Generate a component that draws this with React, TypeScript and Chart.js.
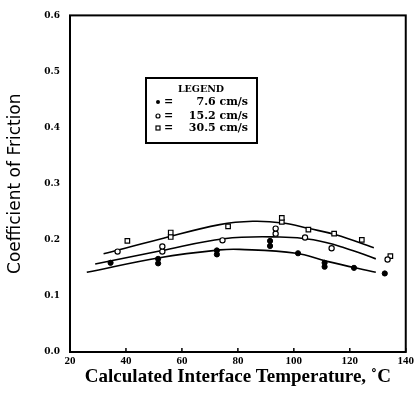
import React, { useEffect, useRef } from "react";
import { Chart, registerables } from "chart.js";

Chart.register(...registerables);

// Axis ticks
const xTickValues = [20, 40, 60, 80, 100, 120, 140];
const yTickValues = [0, 0.1, 0.2, 0.3, 0.4, 0.5, 0.6];

// Measured friction at 7.6 cm/s (filled circles)
const slowTemp = [34.5, 51.5, 51.5, 72.5, 72.5, 91.5, 91.5, 101.5, 111, 111, 121.5, 132.5];
const slowCoef = [0.159, 0.158, 0.166, 0.174, 0.181, 0.189, 0.198, 0.176, 0.152, 0.159, 0.15, 0.14];

// Measured friction at 15.2 cm/s (open circles)
const midTemp = [37, 53, 53, 74.5, 93.5, 93.5, 104, 113.5, 133.5];
const midCoef = [0.179, 0.179, 0.188, 0.199, 0.211, 0.22, 0.204, 0.185, 0.165];

// Measured friction at 30.5 cm/s (open squares)
const fastTemp = [40.5, 56, 56, 76.5, 95.7, 95.7, 105.2, 114.4, 124.3, 134.5];
const fastCoef = [0.198, 0.205, 0.213, 0.224, 0.232, 0.239, 0.218, 0.211, 0.2, 0.171];

// Fitted curves
const slowFitTemp = [26, 52, 73.5, 80.6, 100.8, 111.5, 129.3];
const slowFitCoef = [0.142, 0.168, 0.182, 0.183, 0.176, 0.162, 0.142];
const midFitTemp = [29, 52, 75, 95, 107, 118, 129.3];
const midFitCoef = [0.157, 0.18, 0.202, 0.205, 0.2, 0.186, 0.166];
const fastFitTemp = [32, 52, 73.5, 85.3, 96, 105.5, 115, 128.6];
const fastFitCoef = [0.175, 0.201, 0.227, 0.233, 0.23, 0.22, 0.209, 0.186];

// Legend entries
const legendLabels = ["7.6 cm/s", "15.2 cm/s", "30.5 cm/s"];

const pairs = (xs: number[], ys: number[]) => xs.map((x, i) => ({ x, y: ys[i] }));

const TIMES = "'Liberation Serif', serif";
const WIDE_SERIF = "'DejaVu Serif', serif";

const framePlugin = {
  id: "frame",
  afterDatasetsDraw(chart: any) {
    const { ctx, chartArea } = chart;
    const { left, right, top, bottom } = chartArea;
    const xs = chart.scales.x;
    ctx.save();
    ctx.strokeStyle = "#000";
    ctx.lineWidth = 2;
    ctx.strokeRect(left, top, right - left, bottom - top);
    // inward ticks along the bottom edge
    ctx.lineWidth = 1.5;
    xTickValues.forEach((v) => {
      const px = xs.getPixelForValue(v);
      ctx.beginPath();
      ctx.moveTo(px, bottom);
      ctx.lineTo(px, bottom - 4);
      ctx.stroke();
    });

    // legend box
    const bx = 146, by = 78, bw = 111, bh = 65;
    ctx.fillStyle = "#fff";
    ctx.fillRect(bx, by, bw, bh);
    ctx.lineWidth = 2;
    ctx.strokeRect(bx, by, bw, bh);
    ctx.fillStyle = "#000";
    ctx.font = `bold 9.5px ${WIDE_SERIF}`;
    ctx.textBaseline = "middle";
    ctx.textAlign = "center";
    ctx.fillText("LEGEND", 201, 90);
    const rowY = [102, 116, 128];
    rowY.forEach((y, i) => {
      ctx.lineWidth = 1.2;
      if (i === 0) {
        ctx.beginPath();
        ctx.arc(158, y, 2, 0, Math.PI * 2);
        ctx.fill();
      } else if (i === 1) {
        ctx.beginPath();
        ctx.arc(158, y, 2, 0, Math.PI * 2);
        ctx.stroke();
      } else {
        ctx.strokeRect(156, y - 2, 4, 4);
      }
      ctx.font = `bold 11px ${WIDE_SERIF}`;
      ctx.textAlign = "left";
      ctx.fillText("=", 164, y);
      ctx.textAlign = "right";
      ctx.fillText(legendLabels[i], 248, y);
    });
    ctx.restore();
  },
};

export default function App() {
  const ref = useRef<HTMLCanvasElement>(null);

  useEffect(() => {
    document.body.style.margin = "0";
    const lineStyle = {
      type: "line" as const,
      showLine: true,
      borderColor: "#000",
      borderWidth: 1.6,
      pointRadius: 0,
      tension: 0.4,
      fill: false,
      order: 2,
    };
    const chart = new Chart(ref.current!, {
      type: "scatter",
      data: {
        datasets: [
          {
            label: "7.6 cm/s",
            data: pairs(slowTemp, slowCoef),
            pointStyle: "circle",
            pointRadius: 2.6,
            backgroundColor: "#000",
            borderColor: "#000",
            borderWidth: 1,
            order: 0,
          },
          {
            label: "15.2 cm/s",
            data: pairs(midTemp, midCoef),
            pointStyle: "circle",
            pointRadius: 2.6,
            backgroundColor: "#fff",
            borderColor: "#000",
            borderWidth: 1.2,
            order: 0,
          },
          {
            label: "30.5 cm/s",
            data: pairs(fastTemp, fastCoef),
            pointStyle: "rect",
            pointRadius: 3.2,
            backgroundColor: "#fff",
            borderColor: "#000",
            borderWidth: 1.2,
            order: 0,
          },
          { ...lineStyle, label: "fit 7.6", data: pairs(slowFitTemp, slowFitCoef) },
          { ...lineStyle, label: "fit 15.2", data: pairs(midFitTemp, midFitCoef) },
          { ...lineStyle, label: "fit 30.5", data: pairs(fastFitTemp, fastFitCoef) },
        ] as any,
      },
      plugins: [framePlugin],
      options: {
        responsive: false,
        animation: false,
        layout: { padding: { top: 12, right: 10, left: 0, bottom: 0 } },
        plugins: { legend: { display: false }, tooltip: { enabled: false } },
        scales: {
          x: {
            type: "linear",
            min: 20,
            max: 140,
            afterFit: (s: any) => { s.height = 50; },
            afterBuildTicks: (s: any) => { s.ticks = xTickValues.map((v) => ({ value: v })); },
            grid: { display: false, drawTicks: false },
            border: { display: false },
            ticks: { color: "#000", font: { family: TIMES, size: 11, weight: "bold" }, padding: 3, maxRotation: 0 },
            title: {
              display: true,
              text: "Calculated Interface Temperature, ˚C",
              color: "#000",
              font: { family: TIMES, size: 19, weight: "bold" },
              padding: { top: 0, bottom: 14 },
            },
          },
          y: {
            type: "linear",
            min: 0,
            max: 0.6,
            afterFit: (s: any) => { s.width = 70; },
            afterBuildTicks: (s: any) => { s.ticks = yTickValues.map((v) => ({ value: v })); },
            grid: { display: false, drawTicks: false },
            border: { display: false },
            ticks: {
              color: "#000",
              font: { family: WIDE_SERIF, size: 9, weight: "bold" },
              padding: 10,
              callback: (v: any) => Number(v).toFixed(1),
            },
            title: {
              display: true,
              text: "Coefficient of Friction",
              color: "#000",
              font: { family: "'DejaVu Sans', sans-serif", size: 17 },
              padding: { top: 5, bottom: 0 },
            },
          },
        },
      },
    });
    return () => chart.destroy();
  }, []);

  return (
    <div style={{ width: 417, height: 402, background: "#fff" }}>
      <canvas ref={ref} width={417} height={402} />
    </div>
  );
}
